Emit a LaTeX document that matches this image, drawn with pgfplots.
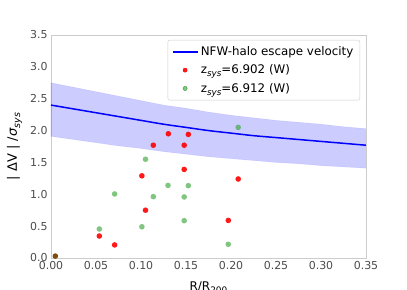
\documentclass[border=0pt]{standalone}
\usepackage{fontspec}
\setmainfont{DejaVu Sans}
\usepackage{pgfplots}
\pgfplotsset{compat=1.18}
\definecolor{bandblue}{RGB}{0,0,255}
\definecolor{ptgreen}{RGB}{44,160,44}
\definecolor{ptbrown}{RGB}{125,75,10}
\pgfplotsset{lineleg/.style={legend image code/.code={\draw[blue, line width=1.5bp] (0bp,0bp) -- (25bp,0bp);}}}
\begin{document}
\begin{tikzpicture}[font=\fontsize{11}{13}\selectfont]
\begin{axis}[
  name=ax,
  scale only axis,
  width=315bp, height=223bp,
  xmin=0, xmax=0.35, ymin=0, ymax=3.5,
  xtick={0,0.05,0.10,0.15,0.20,0.25,0.30,0.35},
  ytick={0,0.5,1.0,1.5,2.0,2.5,3.0,3.5},
  xticklabel style={/pgf/number format/.cd,fixed,fixed zerofill,precision=2},
  yticklabel style={/pgf/number format/.cd,fixed,fixed zerofill,precision=1},
  /pgf/number format/assume math mode=true,
  tick label style={text=black!70, font=\fontsize{11}{13}\selectfont},
  major tick length=0pt,
  tick style={draw=none},
  axis line style={draw=black!20, line width=0.8bp},
  every axis x label/.style={at={(axis description cs:0.5,0)}, anchor=base, yshift=-32.4bp,
     font=\fontsize{12}{14}\selectfont},
  every axis y label/.style={at={(axis description cs:-0.1159,0.5)}, anchor=center, rotate=90,
     font=\fontsize{13}{15}\selectfont},
  xlabel={R/R\raisebox{-0.25em}{\fontsize{9}{9}\selectfont 200}},
  ylabel={| ΔV | /\textit{σ}\raisebox{-0.25em}{\fontsize{9.5}{9.5}\selectfont\itshape sys}},
  legend cell align=left,
  legend style={at={(0.981,0.978)}, anchor=north east, draw=black!20, rounded corners=2bp,
    fill=white, fill opacity=0.85, text opacity=1, inner xsep=4bp, inner ysep=4bp, row sep=2.8bp,
    nodes={inner sep=2.5bp},
    font=\fontsize{11.9}{14}\selectfont},
]
% uncertainty band (upper edge, then lower edge reversed)
\addplot[draw=bandblue, draw opacity=0.1, fill=bandblue, fill opacity=0.2, forget plot] coordinates {
 (0,2.75) (0.025,2.68) (0.05,2.61) (0.075,2.54) (0.1,2.47) (0.125,2.40) (0.15,2.35)
 (0.175,2.29) (0.2,2.24) (0.225,2.20) (0.25,2.16) (0.275,2.13) (0.3,2.10) (0.325,2.06) (0.35,2.03)
 (0.35,1.41) (0.325,1.43) (0.3,1.45) (0.275,1.48) (0.25,1.50) (0.225,1.53) (0.2,1.56)
 (0.175,1.59) (0.15,1.63) (0.125,1.67) (0.1,1.72) (0.075,1.76) (0.05,1.81) (0.025,1.86) (0,1.91)
} -- cycle;
\addplot[blue, line width=1.5bp, smooth, lineleg] coordinates {
 (0,2.40) (0.025,2.34) (0.05,2.28) (0.075,2.22) (0.1,2.16) (0.125,2.10) (0.15,2.05)
 (0.175,2.00) (0.2,1.96) (0.225,1.92) (0.25,1.89) (0.275,1.86) (0.3,1.83) (0.325,1.80) (0.35,1.77)
};
\addlegendentry{NFW-halo escape velocity}
\addplot[only marks, mark=*, mark size=2.8bp, color=red, fill opacity=0.9,
  mark options={draw=red, fill=red, line width=0pt, draw opacity=0, fill opacity=0.9},
  legend image code/.code={\fill[red] (12.5bp,0bp) circle (2.1bp);}] coordinates {
 (0.1137,1.77) (0.148,1.77) (0.1304,1.95) (0.1526,1.94) (0.101,1.29) (0.148,1.39)
 (0.208,1.24) (0.105,0.75) (0.197,0.59) (0.0537,0.345) (0.0707,0.205)
};
\addlegendentry{z\raisebox{-0.25em}{\fontsize{8.8}{8.8}\selectfont\itshape sys}=6.902 (W)}
\addplot[only marks, mark=*, mark size=2.8bp, color=ptgreen,
  mark options={draw=ptgreen, fill=ptgreen, line width=0pt, draw opacity=0, fill opacity=0.6},
  legend image code/.code={\fill[ptgreen, fill opacity=0.6] (12.5bp,0bp) circle (2.1bp);}] coordinates {
 (0.208,2.05) (0.105,1.55) (0.130,1.14) (0.1526,1.135) (0.0707,1.005) (0.1137,0.963)
 (0.148,0.958) (0.148,0.586) (0.101,0.49) (0.0537,0.455) (0.197,0.215)
};
\addlegendentry{z\raisebox{-0.25em}{\fontsize{8.8}{8.8}\selectfont\itshape sys}=6.912 (W)}
\addplot[only marks, mark=*, mark size=2.8bp, color=ptbrown,
  mark options={draw=ptbrown, fill=ptbrown, line width=0pt, draw opacity=0}, forget plot] coordinates {
 (0.0048,0.03)
};
\end{axis}
\pgfresetboundingbox
\path[use as bounding box] ([xshift=-51bp,yshift=-32bp]ax.south west) rectangle ([xshift=41bp,yshift=35bp]ax.north east);
\end{tikzpicture}
\end{document}
